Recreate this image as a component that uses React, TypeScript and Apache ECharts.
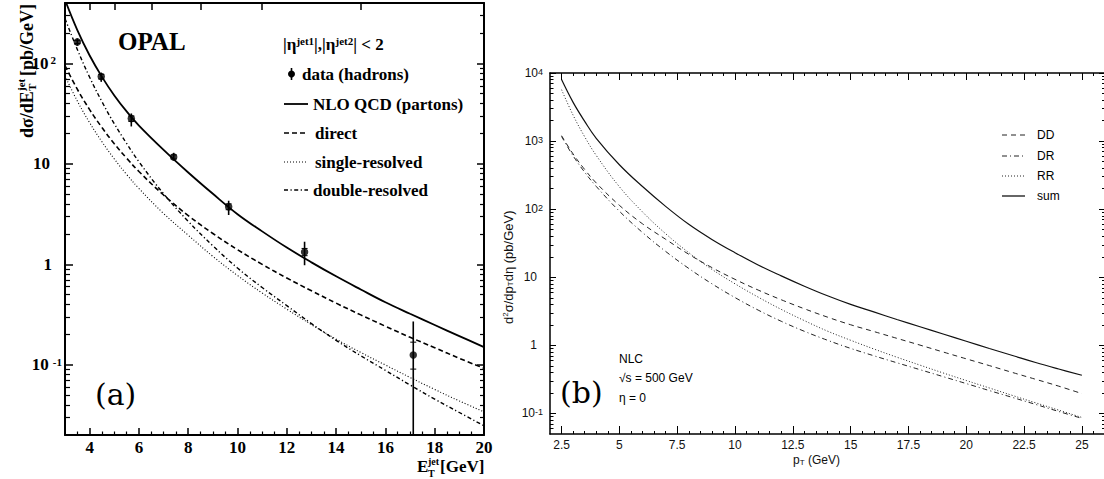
import React, { useEffect, useRef } from 'react';
import * as echarts from 'echarts';

// ---------------- Panel (a): OPAL dijet cross section ----------------
const etA = [3, 3.5, 4, 4.5, 5, 5.5, 6, 7, 8, 9, 10, 11, 12, 13, 14, 15, 16, 17, 18, 19, 20];
const nloA = [430, 215, 120, 73.5, 48, 33.3, 24.1, 13.8, 8.22, 5.04, 3.16, 2.13, 1.47, 1.047, 0.76, 0.562, 0.419, 0.322, 0.249, 0.193, 0.15];
const directA = [95, 55.4, 34.7, 23.0, 15.9, 11.4, 8.4, 4.9, 3.06, 2.03, 1.4, 1.0, 0.731, 0.545, 0.411, 0.314, 0.242, 0.188, 0.148, 0.116, 0.0923];
const singleA = [75, 42.3, 25.7, 16.6, 11.2, 7.86, 5.69, 3.21, 1.95, 1.2, 0.774, 0.518, 0.358, 0.251, 0.18, 0.1326, 0.0995, 0.0748, 0.0568, 0.0436, 0.034];
const doubleA = [280, 138, 72.9, 41.6, 25.1, 16.0, 10.5, 5.04, 2.68, 1.53, 0.919, 0.588, 0.388, 0.257, 0.175, 0.123, 0.088, 0.063, 0.0455, 0.0335, 0.0247];

const dataEtA = [3.5, 4.47, 5.69, 7.41, 9.64, 12.72, 17.13];
const dataA = [164, 74, 28.4, 11.7, 3.75, 1.33, 0.125];
const dataLowA = [150, 65.6, 23.6, 10.8, 3.1, 0.98, 0.01];
const dataHighA = [177, 81, 31.8, 12.9, 4.3, 1.68, 0.27];
const statLowA = [158, 70, 26.5, 11.2, 3.5, 1.22, 0.0906];
const statHighA = [170, 78, 30, 12.3, 4.0, 1.44, 0.168];

const xMajorA = [4, 6, 8, 10, 12, 14, 16, 18, 20];
const xMinorA = [3.5, 4.5, 5, 5.5, 6.5, 7, 7.5, 8.5, 9, 9.5, 10.5, 11, 11.5, 12.5, 13, 13.5, 14.5, 15, 15.5, 16.5, 17, 17.5, 18.5, 19, 19.5];
const xTopA = [4, 5, 6.5, 8.5, 11, 15];
const yMajorA = [0.1, 1, 10, 100];
const yMinorA = [0.03, 0.04, 0.05, 0.06, 0.07, 0.08, 0.09, 0.2, 0.3, 0.4, 0.5, 0.6, 0.7, 0.8, 0.9, 2, 3, 4, 5, 6, 7, 8, 9, 20, 30, 40, 50, 60, 70, 80, 90, 200, 300];

// ---------------- Panel (b): NLC cross sections ----------------
const ptB = [2.5, 3, 3.5, 4, 5, 6, 7, 8, 9, 10, 11, 12, 13, 14, 15, 16, 17, 18, 19, 20, 21, 22, 23, 24, 25];
const ddB = [1200, 646, 383, 243, 114, 61, 36.2, 21.8, 13.9, 9.33, 6.5, 4.68, 3.45, 2.6, 2.01, 1.6, 1.27, 1.01, 0.8, 0.635, 0.505, 0.4, 0.318, 0.252, 0.196];
const drB = [1170, 607, 349, 216, 93.5, 45.5, 24.0, 13.5, 8.04, 5.04, 3.3, 2.26, 1.61, 1.19, 0.904, 0.705, 0.556, 0.44, 0.348, 0.275, 0.217, 0.172, 0.136, 0.107, 0.0849];
const rrB = [5690, 2400, 1158, 616, 214, 91.2, 43.7, 23.0, 13.1, 8.03, 5.12, 3.38, 2.31, 1.62, 1.19, 0.887, 0.671, 0.513, 0.394, 0.305, 0.237, 0.184, 0.1435, 0.112, 0.0875];
const sumB = [8000, 3700, 1950, 1100, 450, 215, 110, 60, 36, 23, 15.2, 10.5, 7.4, 5.35, 4.0, 3.1, 2.4, 1.88, 1.47, 1.15, 0.9, 0.71, 0.56, 0.45, 0.365];

const xMajorB = [2.5, 5, 7.5, 10, 12.5, 15, 17.5, 20, 22.5, 25];
const xMinorB = [3, 3.5, 4, 4.5, 5.5, 6, 6.5, 7, 8, 8.5, 9, 9.5, 10.5, 11, 11.5, 12, 13, 13.5, 14, 14.5, 15.5, 16, 16.5, 17, 18, 18.5, 19, 19.5, 20.5, 21, 21.5, 22, 23, 23.5, 24, 24.5, 25.5];
const yMajorB = [0.1, 1, 10, 100, 1000, 10000];
const yMinorB = [0.06, 0.07, 0.08, 0.09, 0.2, 0.3, 0.4, 0.5, 0.6, 0.7, 0.8, 0.9, 2, 3, 4, 5, 6, 7, 8, 9, 20, 30, 40, 50, 60, 70, 80, 90, 200, 300, 400, 500, 600, 700, 800, 900, 2000, 3000, 4000, 5000, 6000, 7000, 8000, 9000];

const SERIF = '"Liberation Serif", "Times New Roman", Times, serif';
const SANS = '"Liberation Sans", Arial, Helvetica, sans-serif';
const CM = '"DejaVu Serif", serif';

const pairs = (xs: number[], ys: number[]) => xs.map((x, i) => [x, ys[i]]);

function axis(
  grid: number,
  type: 'value' | 'log',
  min: number,
  max: number,
  position: string,
  ticks: number[],
  tickLen: number,
  tickWidth: number,
  lineWidth: number,
  label?: any
) {
  const a: any = {
    type,
    gridIndex: grid,
    min,
    max,
    position,
    axisLine: { show: lineWidth > 0, onZero: false, lineStyle: { color: '#000', width: lineWidth || 1 } },
    axisTick: {
      show: true,
      inside: true,
      length: tickLen,
      customValues: ticks,
      lineStyle: { color: '#000', width: tickWidth },
    },
    axisLabel: label ? { ...label, customValues: ticks } : { show: false },
    splitLine: { show: false },
    minorTick: { show: false },
    z: 3,
  };
  if (type === 'log') a.logBase = 10;
  return a;
}

const labelXA = { show: true, margin: 5, lineHeight: 14, color: '#000', fontFamily: SERIF, fontWeight: 'bold', fontSize: 17 };
const labelYA = {
  show: true,
  margin: 3,
  color: '#000',
  formatter: (v: number) => {
    const e = Math.round(Math.log10(v));
    if (e === 0) return '{b1|1}';
    if (e === 1) return '{b2|10}';
    if (e < 0) return '{b|10}{sm|' + e + '}';
    return '{b|10}{s|' + e + '}';
  },
  rich: {
    b: { fontFamily: SERIF, fontWeight: 'bold', fontSize: 17, color: '#000' },
    b1: { fontFamily: SERIF, fontWeight: 'bold', fontSize: 17, color: '#000', padding: [0, 10, 0, 0] },
    b2: { fontFamily: SERIF, fontWeight: 'bold', fontSize: 17, color: '#000', padding: [0, 12, 0, 0] },
    s: { fontFamily: SERIF, fontWeight: 'bold', fontSize: 11, color: '#000', verticalAlign: 'top', padding: [0, 6, 0, 2] },
    sm: { fontFamily: SERIF, fontWeight: 'bold', fontSize: 11, color: '#000', verticalAlign: 'top', padding: [0, 0, 0, 4] },
  },
};
const labelXB = { show: true, margin: 5, color: '#111', fontFamily: SANS, fontSize: 12 };
const labelYB = {
  show: true,
  margin: 7,
  color: '#111',
  formatter: (v: number) => {
    const e = Math.round(Math.log10(v));
    if (e === 0) return '{p|1}';
    if (e === 1) return '{p|10}';
    return '{b|10}{s|' + e + '}';
  },
  rich: {
    b: { fontFamily: SANS, fontSize: 12, color: '#111' },
    p: { fontFamily: SANS, fontSize: 12, color: '#111', padding: [0, 6, 0, 0] },
    s: { fontFamily: SANS, fontSize: 9, color: '#111', verticalAlign: 'top' },
  },
};

function line(name: string, xi: number, yi: number, xs: number[], ys: number[], style: any) {
  return {
    type: 'line',
    name,
    xAxisIndex: xi,
    yAxisIndex: yi,
    data: pairs(xs, ys),
    symbol: 'none',
    showSymbol: false,
    smooth: 0.4,
    clip: true,
    silent: true,
    lineStyle: style,
    z: 2,
  };
}

const styA = {
  nlo: { color: '#000', width: 1.8, type: 'solid' },
  direct: { color: '#000', width: 1.6, type: [5, 3] },
  single: { color: '#000', width: 1.1, type: [1, 2] },
  double: { color: '#000', width: 1.4, type: [4, 2.5, 1.2, 2.5] },
};
const styB = {
  dd: { color: '#222', width: 1, type: [5, 4] },
  dr: { color: '#222', width: 1, type: [5, 3, 1, 3] },
  rr: { color: '#222', width: 1, type: [1, 2] },
  sum: { color: '#111', width: 1.2, type: 'solid' },
};

function legendLine(x1: number, x2: number, y: number, st: any) {
  const s: any = { stroke: st.color, lineWidth: st.width };
  if (Array.isArray(st.type)) s.lineDash = st.type;
  return { type: 'line', shape: { x1, y1: y, x2, y2: y }, style: s, silent: true };
}
function txt(x: number, y: number, text: string, font: string, extra: any = {}) {
  return {
    type: 'text',
    x,
    y,
    silent: true,
    style: { text, font, fill: '#000', align: 'left', verticalAlign: 'middle', ...extra },
  };
}

function buildOption(): any {
  const bSerif = `bold 17px ${SERIF}`;
  const graphic: any[] = [
    // Panel (a)
    txt(118, 41, 'OPAL', `bold 25px ${SERIF}`),
    txt(95, 394, '(a)', `30px ${CM}`),
    {
      type: 'text',
      x: 283,
      y: 44,
      silent: true,
      style: {
        text: '{n||η}{s|jet1}{n||,|η}{s|jet2}{n|| < 2}',
        align: 'left',
        verticalAlign: 'middle',
        rich: {
          n: { fontFamily: SERIF, fontWeight: 'bold', fontSize: 17, fill: '#000' },
          s: { fontFamily: SERIF, fontWeight: 'bold', fontSize: 11, fill: '#000', verticalAlign: 'top' },
        },
      },
    },
    { type: 'line', shape: { x1: 291.5, y1: 68, x2: 291.5, y2: 80 }, style: { stroke: '#000', lineWidth: 1.6 }, silent: true },
    { type: 'circle', shape: { cx: 291.5, cy: 74, r: 3.5 }, style: { fill: '#000' }, silent: true },
    txt(302, 74, 'data (hadrons)', bSerif),
    legendLine(284, 308, 104, styA.nlo),
    txt(313, 104, 'NLO QCD (partons)', bSerif),
    legendLine(284, 308, 133, styA.direct),
    txt(315, 133, 'direct', bSerif),
    legendLine(284, 308, 162, styA.single),
    txt(315, 162, 'single-resolved', bSerif),
    legendLine(284, 308, 190, styA.double),
    txt(313, 190, 'double-resolved', bSerif),
    // y title (a), rotated
    {
      type: 'group',
      x: 27,
      y: 138,
      rotation: Math.PI / 2,
      silent: true,
      children: [
        txt(0, 0, 'dσ/dE', `bold 18px ${SERIF}`),
        txt(47, -6, 'jet', `bold 11px ${SERIF}`),
        txt(47, 5, 'T', `bold 11px ${SERIF}`),
        txt(62, 0, '[pb/GeV]', `bold 18px ${SERIF}`),
      ],
    },
    // x title (a)
    txt(417, 466, 'E', `bold 17px ${SERIF}`),
    txt(428, 461, 'jet', `bold 10px ${SERIF}`),
    txt(428, 473, 'T', `bold 10px ${SERIF}`),
    txt(440, 466, '[GeV]', `bold 17px ${SERIF}`),

    // Panel (b)
    txt(560, 392, '(b)', `30px ${CM}`),
    txt(619, 359, 'NLC', `12px ${SANS}`),
    txt(619, 378, '√s = 500 GeV', `12px ${SANS}`),
    txt(619, 398, 'η = 0', `12px ${SANS}`),
    legendLine(1002, 1025, 135, styB.dd),
    txt(1037, 135, 'DD', `12px ${SANS}`),
    legendLine(1002, 1025, 156, styB.dr),
    txt(1037, 156, 'DR', `12px ${SANS}`),
    legendLine(1002, 1025, 176, styB.rr),
    txt(1037, 176, 'RR', `12px ${SANS}`),
    legendLine(1002, 1025, 196, { color: '#666', width: 2, type: 'solid' }),
    txt(1037, 196, 'sum', `12px ${SANS}`),
    {
      type: 'text',
      x: 508,
      y: 324,
      rotation: Math.PI / 2,
      silent: true,
      style: {
        text: '{n|d}{sup|2}{n|σ/dp}{sub|T}{n|dη (pb/GeV)}',
        align: 'left',
        verticalAlign: 'middle',
        rich: {
          n: { fontFamily: SANS, fontSize: 13, fill: '#111' },
          sup: { fontFamily: SANS, fontSize: 8, fill: '#111', verticalAlign: 'top' },
          sub: { fontFamily: SANS, fontSize: 8, fill: '#111', verticalAlign: 'bottom' },
        },
      },
    },
    {
      type: 'text',
      x: 793,
      y: 460,
      silent: true,
      style: {
        text: '{n|p}{sub|T}{n| (GeV)}',
        align: 'left',
        verticalAlign: 'middle',
        rich: {
          n: { fontFamily: SANS, fontSize: 12, fill: '#111' },
          sub: { fontFamily: SANS, fontSize: 8, fill: '#111', verticalAlign: 'bottom' },
        },
      },
    },
  ];

  return {
    animation: false,
    backgroundColor: '#fff',
    grid: [
      { left: 65, right: 620, top: 3, bottom: 44, containLabel: false, outerBoundsMode: 'none' },
      { left: 550, right: -1, top: 73, bottom: 45, containLabel: false, outerBoundsMode: 'none' },
    ],
    xAxis: [
      axis(0, 'value', 3, 20, 'bottom', xMajorA, 7, 1.5, 2, labelXA),
      axis(0, 'value', 3, 20, 'bottom', xMinorA, 3.5, 1.2, 0),
      axis(0, 'value', 3, 20, 'top', xTopA, 7, 1.5, 2),
      axis(1, 'value', 2, 26, 'bottom', xMajorB, 8, 1, 1.5, labelXB),
      axis(1, 'value', 2, 26, 'bottom', xMinorB, 3, 1, 0),
      axis(1, 'value', 2, 26, 'top', xMajorB, 7, 1, 1.5),
      axis(1, 'value', 2, 26, 'top', xMinorB, 3, 1, 0),
    ],
    yAxis: [
      axis(0, 'log', 0.02, 400, 'left', yMajorA, 8, 1.5, 2, labelYA),
      axis(0, 'log', 0.02, 400, 'left', yMinorA, 5, 1.2, 0),
      axis(0, 'log', 0.02, 400, 'right', yMajorA, 7, 1.5, 2),
      axis(0, 'log', 0.02, 400, 'right', yMinorA, 4, 1.2, 0),
      axis(1, 'log', 0.05, 10000, 'left', yMajorB, 6, 1, 1.5, labelYB),
      axis(1, 'log', 0.05, 10000, 'left', yMinorB, 3.5, 1, 0),
      axis(1, 'log', 0.05, 10000, 'right', yMajorB, 6, 1, 1.5),
      axis(1, 'log', 0.05, 10000, 'right', yMinorB, 3, 1, 0),
    ],
    series: [
      line('NLO QCD (partons)', 0, 0, etA, nloA, styA.nlo),
      line('direct', 0, 0, etA, directA, styA.direct),
      line('single-resolved', 0, 0, etA, singleA, styA.single),
      line('double-resolved', 0, 0, etA, doubleA, styA.double),
      {
        type: 'custom',
        name: 'errors',
        xAxisIndex: 0,
        yAxisIndex: 0,
        clip: true,
        silent: true,
        encode: { x: 0, y: 1 },
        data: dataEtA.map((x, i) => [x, dataA[i], dataLowA[i], dataHighA[i], statLowA[i], statHighA[i]]),
        renderItem: (_p: any, api: any) => {
          const x = api.value(0);
          const lo = api.coord([x, api.value(2)]);
          const hi = api.coord([x, api.value(3)]);
          const sl = api.coord([x, api.value(4)]);
          const sh = api.coord([x, api.value(5)]);
          const st = { stroke: '#000', lineWidth: 1.6 };
          return {
            type: 'group',
            children: [
              { type: 'line', shape: { x1: lo[0], y1: lo[1], x2: hi[0], y2: hi[1] }, style: st },
              { type: 'line', shape: { x1: sl[0] - 3, y1: sl[1], x2: sl[0] + 3, y2: sl[1] }, style: { stroke: '#000', lineWidth: 1 } },
              { type: 'line', shape: { x1: sh[0] - 3, y1: sh[1], x2: sh[0] + 3, y2: sh[1] }, style: { stroke: '#000', lineWidth: 1 } },
            ],
          };
        },
        z: 3,
      },
      {
        type: 'scatter',
        name: 'data (hadrons)',
        xAxisIndex: 0,
        yAxisIndex: 0,
        data: pairs(dataEtA, dataA),
        symbol: 'circle',
        symbolSize: 7.5,
        itemStyle: { color: '#000' },
        silent: true,
        z: 4,
      },
      line('DD', 3, 4, ptB, ddB, styB.dd),
      line('DR', 3, 4, ptB, drB, styB.dr),
      line('RR', 3, 4, ptB, rrB, styB.rr),
      line('sum', 3, 4, ptB, sumB, styB.sum),
    ],
    graphic,
  };
}

export default function App() {
  const ref = useRef<HTMLDivElement>(null);
  useEffect(() => {
    if (!ref.current) return;
    const chart = echarts.init(ref.current, undefined, { renderer: 'svg' });
    chart.setOption(buildOption());
    return () => chart.dispose();
  }, []);
  return (
    <div
      ref={ref}
      style={{ position: 'absolute', left: 0, top: 0, width: 1104, height: 479, background: '#fff' }}
    />
  );
}
